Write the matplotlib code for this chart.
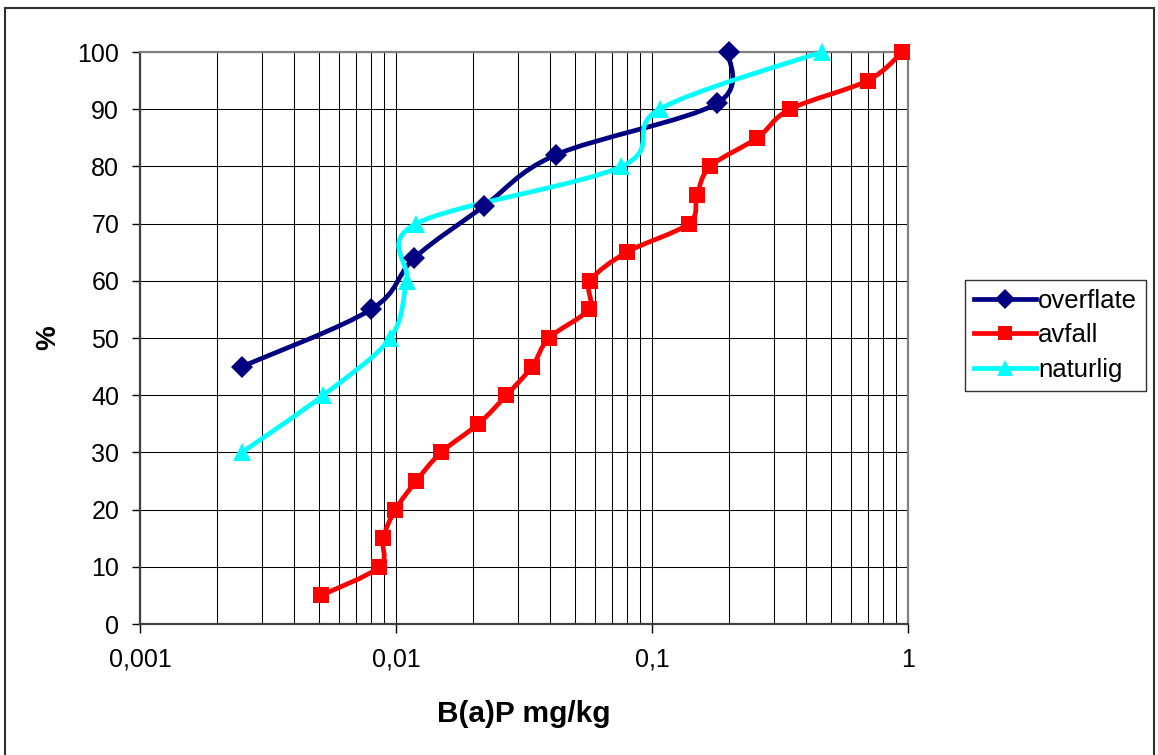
import matplotlib
matplotlib.use("Agg")
import matplotlib.pyplot as plt
import numpy as np
from matplotlib.path import Path
from matplotlib.patches import PathPatch, Rectangle
from matplotlib.lines import Line2D
from matplotlib.ticker import FixedLocator, FixedFormatter, LogLocator

plt.rcParams['font.family'] = ['Liberation Sans', 'DejaVu Sans']

# data (x = B(a)P mg/kg, y = %)
overflate_x = [0.0025, 0.008, 0.0118, 0.022, 0.042, 0.179, 0.199]
overflate_y = [45, 55, 64, 73, 82, 91, 100]

avfall_x = [0.0051, 0.0086, 0.0089, 0.00995, 0.012, 0.015, 0.021, 0.027, 0.034, 0.0396,
            0.0565, 0.0575, 0.0797, 0.139, 0.150, 0.169, 0.258, 0.346, 0.695, 0.95]
avfall_y = [5, 10, 15, 20, 25, 30, 35, 40, 45, 50, 55, 60, 65, 70, 75, 80, 85, 90, 95, 100]

naturlig_x = [0.0025, 0.0052, 0.0095, 0.011, 0.012, 0.076, 0.107, 0.46]
naturlig_y = [30, 40, 50, 60, 70, 80, 90, 100]

x_ticks = [0.001, 0.01, 0.1, 1]
x_ticklabels = ['0,001', '0,01', '0,1', '1']
y_ticks = list(range(0, 101, 10))


def smooth_path(xs, ys):
    # Excel style smoothed line: Catmull-Rom bezier in (log x, y) space
    pts = np.column_stack([np.log10(xs), np.asarray(ys, float)])
    n = len(pts)
    verts = [pts[0]]
    codes = [Path.MOVETO]
    for i in range(n - 1):
        p0 = pts[i - 1] if i > 0 else pts[i]
        p1, p2 = pts[i], pts[i + 1]
        p3 = pts[i + 2] if i + 2 < n else pts[i + 1]
        verts += [p1 + (p2 - p0) / 6, p2 - (p3 - p1) / 6, p2]
        codes += [Path.CURVE4] * 3
    verts = np.array(verts)
    verts[:, 0] = 10 ** verts[:, 0]
    return Path(verts, codes)


fig = plt.figure(figsize=(11.58, 7.55), dpi=100)
ax = fig.add_axes([140 / 1158, 1 - 624 / 755, 768 / 1158, 572 / 755])
ax.set_xscale('log')
ax.set_xlim(0.001, 1)
ax.set_ylim(0, 100)

series = [
    ('overflate', overflate_x, overflate_y, '#000080', 'D', 11),
    ('avfall', avfall_x, avfall_y, '#FF0000', 's', 11),
    ('naturlig', naturlig_x, naturlig_y, '#00FFFF', '^', 12.5),
]

LW = 3.4
handles = []
for name, xs, ys, col, mk, ms in series:
    ax.add_patch(PathPatch(smooth_path(xs, ys), fill=False, edgecolor=col,
                           lw=LW, zorder=3, capstyle='round', joinstyle='round'))
    handles.append(Line2D([], [], color=col, lw=LW, marker=mk, ms=ms * 0.9,
                          markeredgewidth=0, label=name))
for name, xs, ys, col, mk, ms in series:
    ax.plot(xs, ys, linestyle='none', marker=mk, ms=ms, color=col,
            markeredgewidth=0, zorder=4, clip_on=False)

# grid
ax.yaxis.set_major_locator(FixedLocator(y_ticks))
ax.xaxis.set_major_locator(FixedLocator(x_ticks))
ax.xaxis.set_major_formatter(FixedFormatter(x_ticklabels))
ax.xaxis.set_minor_locator(LogLocator(base=10, subs=np.arange(2, 10)))
ax.xaxis.set_minor_formatter(FixedFormatter([]))
ax.grid(True, which='major', axis='both', color='black', lw=0.75, zorder=1)
ax.grid(True, which='minor', axis='x', color='black', lw=0.75, zorder=1)

ax.tick_params(axis='y', which='major', direction='out', length=6, width=1,
               pad=9, labelsize=18, color='black')
ax.tick_params(axis='x', which='major', direction='out', length=6.5, width=1,
               pad=10.5, labelsize=18, color='black')
ax.tick_params(axis='x', which='minor', length=0)

for sp in ax.spines.values():
    sp.set_color('#808080')
    sp.set_linewidth(1.6)
ax.spines['left'].set_color('#404040')
ax.spines['bottom'].set_color('#404040')

ax.set_xlabel('B(a)P mg/kg', fontsize=21.5, fontweight='bold')
ax.xaxis.set_label_coords(0.5, (624 - 714) / 572)
ax.xaxis.label.set_va('center')
ax.set_ylabel('%', fontsize=20, fontweight='bold')
ax.yaxis.set_label_coords((48 - 140) / 768, 0.5)
ax.yaxis.label.set_va('center')

leg = fig.legend(handles=handles, loc='upper left',
                 bbox_to_anchor=(965 / 1158, 1 - 280 / 755),
                 fontsize=18.5, frameon=True, fancybox=False, shadow=False,
                 handlelength=2.4, handletextpad=0.1, labelspacing=0.4,
                 borderpad=0.35, borderaxespad=0, numpoints=1)
leg.get_frame().set_edgecolor('black')
leg.get_frame().set_linewidth(1)

# outer chart border
fig.add_artist(Rectangle((5 / 1158, -0.01), 1149 / 1158, 1.01 - 8 / 755,
                         transform=fig.transFigure, fill=False,
                         edgecolor='#303030', lw=1.5))

fig.savefig('out.png', dpi=100)
